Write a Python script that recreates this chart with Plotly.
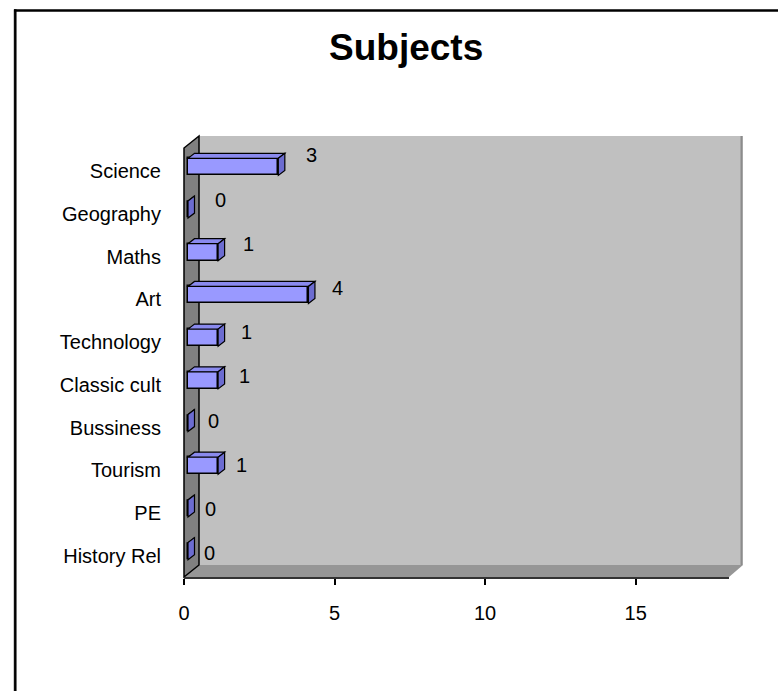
import plotly.graph_objects as go

# ---- data (bottom to top, as drawn on the category axis) ----
categories = ["History Rel", "PE", "Tourism", "Bussiness", "Classic cult",
              "Technology", "Art", "Maths", "Geography", "Science"]
values = [0, 0, 1, 0, 1, 1, 4, 1, 0, 3]
x_tick_values = [0, 5, 10, 15]
chart_title = "Subjects"

# ---- layout geometry (pixels, in page coordinates) ----
OFF = 0
W, H = 778, 691
L, R, T, B = 184, 729, 150, 577
X_MAX = 18.1
pw, ph = R - L, B - T
n = len(categories)
px_per_x = pw / X_MAX
px_per_y = ph / n

BAR_DX, BAR_DY = 4, 4.5      # shift of bar front plane vs. axis plane
DEPTH_X, DEPTH_Y = 6.5, 5    # 3D depth of each bar
HALF = 0.2                   # half bar thickness (category units)

FONT = "Liberation Sans, Arial, sans-serif"


def px(X):
    return (X - L) / pw


def py(Y):
    return (B - Y) / ph


x2_lo = -BAR_DX / px_per_x
y2_shift = BAR_DY / px_per_y
ddx = DEPTH_X / px_per_x
ddy = DEPTH_Y / px_per_y
ypos = list(range(n))

fig = go.Figure()
# carrier for the visible (front-plane) axes
fig.add_trace(go.Scatter(x=[None], y=[None], xaxis="x", yaxis="y",
                         mode="markers", showlegend=False, hoverinfo="skip"))
fig.add_trace(go.Bar(
    x=values, y=ypos, orientation="h", width=2 * HALF,
    xaxis="x2", yaxis="y2",
    marker=dict(color="#9999FF", line=dict(color="black", width=1.5)),
    hovertext=categories, hoverinfo="text+x",
))

shapes = []
# outer chart border (only top and left edges are inside the view)
shapes.append(dict(type="line", xref="paper", yref="paper",
                   x0=px(13.6), x1=px(13.6), y0=py(1000), y1=py(9.5),
                   line=dict(color="#C8C8C8", width=1), layer="below"))
shapes.append(dict(type="line", xref="paper", yref="paper",
                   x0=px(15.3), x1=px(15.3), y0=py(1000), y1=py(9.3),
                   line=dict(color="black", width=2.5), layer="below"))
shapes.append(dict(type="line", xref="paper", yref="paper",
                   x0=px(14), x1=px(1000), y0=py(10.5), y1=py(10.5),
                   line=dict(color="black", width=2.5), layer="below"))
# back wall
shapes.append(dict(type="rect", xref="paper", yref="paper",
                   x0=px(199), x1=px(743), y0=py(565), y1=py(136),
                   fillcolor="#C0C0C0", line=dict(width=0), layer="below"))
shapes.append(dict(type="line", xref="paper", yref="paper",
                   x0=px(741.5), x1=px(741.5), y0=py(565), y1=py(136),
                   line=dict(color="#8C8C8C", width=2), layer="below"))
# floor
shapes.append(dict(type="path", xref="paper", yref="paper",
                   path=(f"M {px(184)},{py(577)} L {px(729)},{py(577)} "
                         f"L {px(743)},{py(565)} L {px(199)},{py(565)} Z"),
                   fillcolor="#969696", line=dict(width=0), layer="below"))
# left wall
shapes.append(dict(type="path", xref="paper", yref="paper",
                   path=(f"M {px(184)},{py(577)} L {px(184)},{py(148)} "
                         f"L {px(199)},{py(136)} L {px(199)},{py(565)} Z"),
                   fillcolor="#808080", line=dict(color="black", width=1.5),
                   layer="below"))

# 3D faces of bars
for i, v in zip(ypos, values):
    top = (f"M 0,{i + HALF} L {v},{i + HALF} L {v + ddx},{i + HALF + ddy} "
           f"L {ddx},{i + HALF + ddy} Z")
    side = (f"M {v},{i - HALF} L {v},{i + HALF} L {v + ddx},{i + HALF + ddy} "
            f"L {v + ddx},{i - HALF + ddy} Z")
    shapes.append(dict(type="path", xref="x2", yref="y2", path=top,
                       fillcolor="#8A8AEE", line=dict(color="black", width=1.2)))
    shapes.append(dict(type="path", xref="x2", yref="y2", path=side,
                       fillcolor="#6C6CD0", line=dict(color="black", width=1.2)))

annotations = [dict(xref="paper", yref="paper", x=px(406), y=py(48),
                    text=chart_title, showarrow=False,
                    xanchor="center", yanchor="middle",
                    font=dict(family=FONT, size=37, color="black", weight="bold"))]
for i, v in zip(ypos, values):
    annotations.append(dict(xref="x2", yref="y2", x=v, y=i, text=str(v),
                            showarrow=False, xanchor="center", yanchor="middle",
                            xshift=21 + 1.4 * i, yshift=-2 + 1.5 * i,
                            font=dict(family=FONT, size=20, color="black")))

fig.update_layout(
    width=W, height=H, autosize=False,
    margin=dict(l=L - OFF, r=W - (R - OFF), t=T - OFF, b=H - (B - OFF), pad=0),
    paper_bgcolor="white", plot_bgcolor="rgba(0,0,0,0)",
    showlegend=False, bargap=0,
    font=dict(family=FONT, size=20, color="black"),
    xaxis=dict(range=[0, X_MAX], tickvals=x_tick_values,
               ticks="outside", ticklen=6, tickwidth=1.5, tickcolor="black",
               showline=True, linecolor="#333333", linewidth=2,
               showgrid=False, zeroline=False, ticklabelstandoff=11,
               tickfont=dict(family=FONT, size=20, color="black")),
    yaxis=dict(range=[-0.5, n - 0.5], tickvals=ypos, ticktext=categories,
               ticks="", showline=False, showgrid=False, zeroline=False,
               ticklabelstandoff=22,
               tickfont=dict(family=FONT, size=20, color="black")),
    xaxis2=dict(overlaying="x", range=[x2_lo, X_MAX + x2_lo], visible=False),
    yaxis2=dict(overlaying="y", range=[-0.5 - y2_shift, n - 0.5 - y2_shift],
                visible=False),
    shapes=shapes,
    annotations=annotations,
)

fig.write_html(
    "out.html",
    config={"displayModeBar": False},
    post_script=("document.body.style.margin='0';"
                 "document.body.style.overflow='hidden';"),
)
